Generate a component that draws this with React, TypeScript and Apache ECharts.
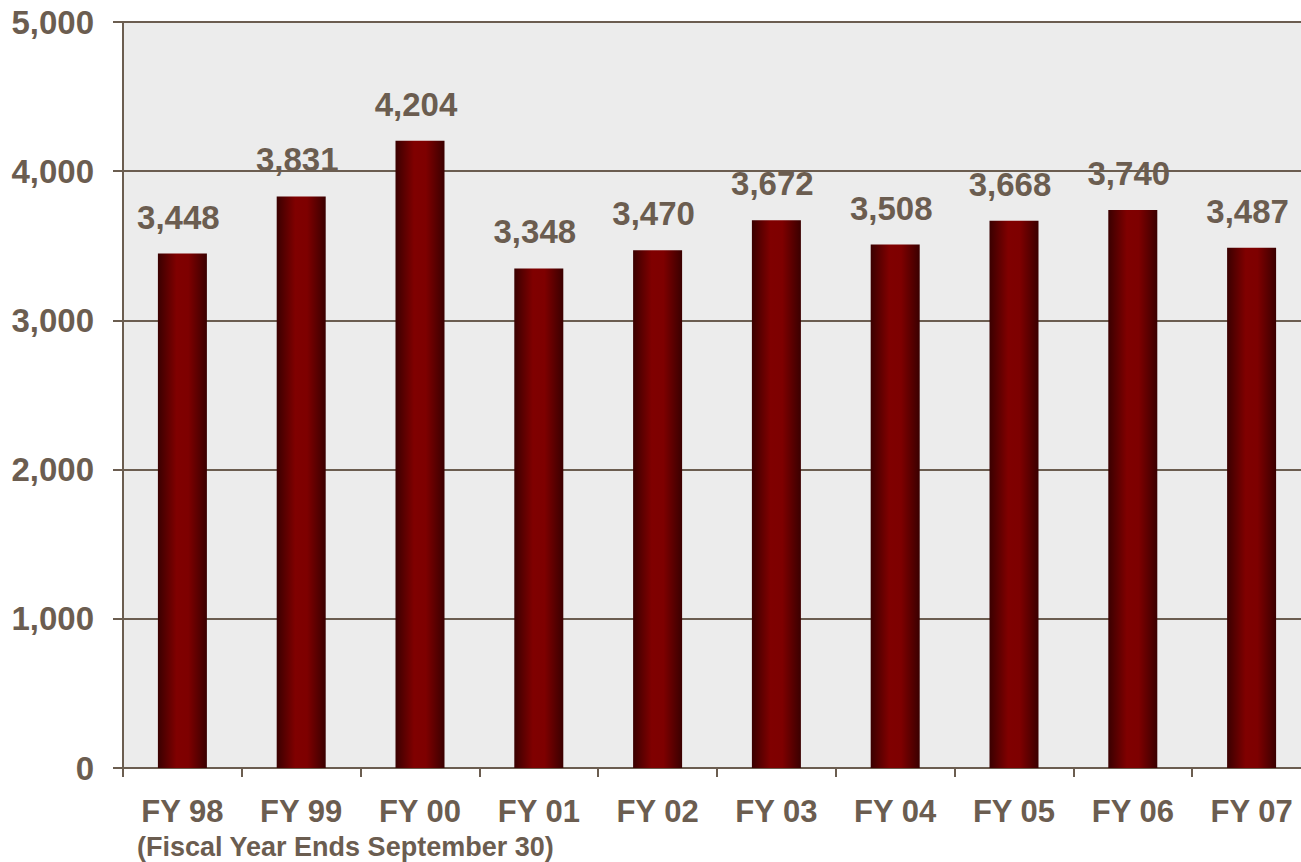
import React, { useEffect, useRef } from "react";
import * as echarts from "echarts";

const categories = ["FY 98", "FY 99", "FY 00", "FY 01", "FY 02", "FY 03", "FY 04", "FY 05", "FY 06", "FY 07"];
const values = [3448, 3831, 4204, 3348, 3470, 3672, 3508, 3668, 3740, 3487];
const subtitle = "(Fiscal Year Ends September 30)";

const TXT = "#6b5d50";
const FONT = "Liberation Sans, Arial, sans-serif";
const fmt = (v: number) => v.toLocaleString("en-US");

export default function App() {
  const ref = useRef<HTMLDivElement>(null);
  useEffect(() => {
    if (!ref.current) return;
    const chart = echarts.init(ref.current, undefined, { renderer: "svg" });
    chart.setOption({
      animation: false,
      backgroundColor: "#ffffff",
      textStyle: { fontFamily: FONT },
      grid: {
        left: 123,
        top: 22,
        width: 1188,
        height: 746,
        show: true,
        backgroundColor: "#ececec",
        borderWidth: 0,
      },
      xAxis: {
        type: "category",
        data: categories,
        axisLine: { show: true, lineStyle: { color: TXT, width: 2 } },
        axisTick: { show: true, length: 9, lineStyle: { color: TXT, width: 2 } },
        axisLabel: {
          color: TXT,
          fontSize: 31,
          fontWeight: "bold",
          margin: 28,
          fontFamily: FONT,
        },
      },
      yAxis: {
        type: "value",
        min: 0,
        max: 5000,
        interval: 1000,
        axisLine: { show: true, lineStyle: { color: TXT, width: 2 } },
        axisTick: { show: true, length: 10, lineStyle: { color: TXT, width: 2 } },
        splitLine: { show: true, lineStyle: { color: TXT, width: 2 } },
        axisLabel: {
          color: TXT,
          fontSize: 33,
          fontWeight: "bold",
          margin: 29,
          formatter: (v: number) => fmt(v),
          fontFamily: FONT,
        },
      },
      series: [
        {
          type: "bar",
          data: values,
          barWidth: 49,
          itemStyle: {
            color: new echarts.graphic.LinearGradient(0, 0, 1, 0, [
              { offset: 0, color: "#3a0000" },
              { offset: 0.38, color: "#800000" },
              { offset: 0.62, color: "#7e0000" },
              { offset: 1, color: "#3a0000" },
            ]),
          },
          label: {
            show: true,
            position: "top",
            distance: 20,
            offset: [-4, 0],
            color: TXT,
            fontSize: 33,
            fontWeight: "bold",
            formatter: (p: any) => fmt(p.value),
            fontFamily: FONT,
          },
        },
      ],
      graphic: [
        {
          type: "text",
          left: 137,
          top: 833,
          style: {
            text: subtitle,
            fill: TXT,
            fontSize: 27,
            fontWeight: "bold",
            fontFamily: FONT,
          },
        },
      ],
    });
    return () => chart.dispose();
  }, []);
  return (
    <div
      ref={ref}
      style={{ position: "fixed", left: 0, top: 0, width: 1320, height: 862 }}
    />
  );
}
